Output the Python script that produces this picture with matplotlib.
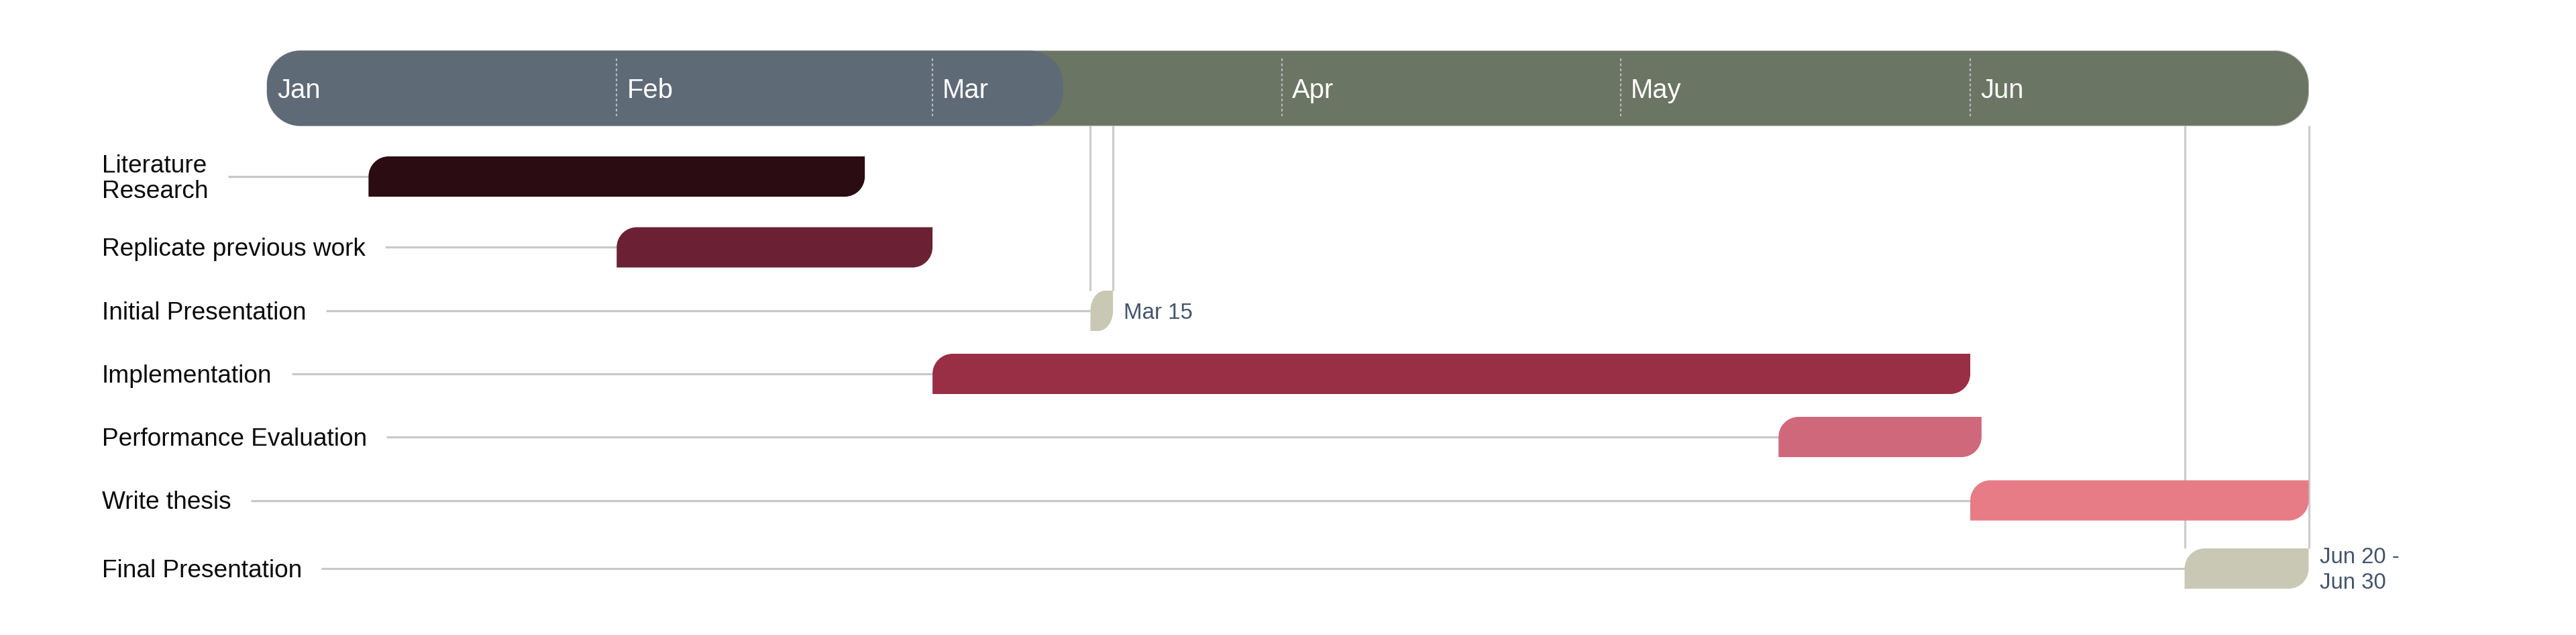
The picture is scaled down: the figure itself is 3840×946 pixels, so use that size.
import matplotlib
matplotlib.use("Agg")
import matplotlib.pyplot as plt
import matplotlib.dates as mdates
from matplotlib.path import Path
from matplotlib.patches import PathPatch
import datetime as dt

# ---------------- data ----------------
tasks = ["Literature\nResearch", "Replicate previous work", "Initial Presentation",
         "Implementation", "Performance Evaluation", "Write thesis", "Final Presentation"]
starts = ["2023-01-10", "2023-02-01", "2023-03-15", "2023-03-01",
          "2023-05-15", "2023-06-01", "2023-06-20"]
ends = ["2023-02-23", "2023-03-01", "2023-03-17", "2023-06-01",
        "2023-06-02", "2023-07-01", "2023-07-01"]
colors = ["#2b0c12", "#6b2133", "#c8c8b4", "#982f44", "#d0687b", "#e77c87", "#c8c8b4"]
milestone = [False, False, True, False, False, False, True]
annotations = ["", "", "Mar 15", "", "", "", "Jun 20 -\nJun 30"]

month_labels = ["Jan", "Feb", "Mar", "Apr", "May", "Jun"]
month_starts = ["2023-01-01", "2023-02-01", "2023-03-01",
                "2023-04-01", "2023-05-01", "2023-06-01"]
timeline_start = "2023-01-01"
timeline_end = "2023-07-01"
elapsed_end = "2023-03-12 14:00"

# ---------------- layout ----------------
plt.rcParams['font.family'] = ['Liberation Sans', 'DejaVu Sans']
plt.rcParams['lines.scale_dashes'] = False
W, H, DPI = 3840, 946, 100
PX = 72.0 / DPI  # points per pixel

def num(s):
    return mdates.date2num(dt.datetime.fromisoformat(s))

fig = plt.figure(figsize=(W / DPI, H / DPI), dpi=DPI)
ax = fig.add_axes([0, 0, 1, 1])
ax.axis('off')

x_left_px, x_right_px = 398, 3441.5
d0, d1 = num(timeline_start), num(timeline_end)
ppd = (x_right_px - x_left_px) / (d1 - d0)
ax.set_xlim(d0 - x_left_px / ppd, d0 + (W - x_left_px) / ppd)
ax.set_ylim(H, 0)

def dx(px):
    return px / ppd

row_y = [263, 368.5, 463, 557, 651, 745.5, 847]
bar_h = 60
head_top, head_bot = 75.5, 187.5
head_mid = (head_top + head_bot) / 2


def shape(xa, xb, yt, yb, rx, ry, tl, tr, br, bl):
    k = 0.5523
    V, C = [], []
    start = (xa + rx, yt) if tl else (xa, yt)
    V.append(start); C.append(Path.MOVETO)
    if tr:
        V += [(xb - rx, yt), (xb - rx + k * rx, yt), (xb, yt + ry - k * ry), (xb, yt + ry)]
        C += [Path.LINETO, Path.CURVE4, Path.CURVE4, Path.CURVE4]
    else:
        V.append((xb, yt)); C.append(Path.LINETO)
    if br:
        V += [(xb, yb - ry), (xb, yb - ry + k * ry), (xb - rx + k * rx, yb), (xb - rx, yb)]
        C += [Path.LINETO, Path.CURVE4, Path.CURVE4, Path.CURVE4]
    else:
        V.append((xb, yb)); C.append(Path.LINETO)
    if bl:
        V += [(xa + rx, yb), (xa + rx - k * rx, yb), (xa, yb - ry + k * ry), (xa, yb - ry)]
        C += [Path.LINETO, Path.CURVE4, Path.CURVE4, Path.CURVE4]
    else:
        V.append((xa, yb)); C.append(Path.LINETO)
    if tl:
        V += [(xa, yt + ry), (xa, yt + ry - k * ry), (xa + rx - k * rx, yt), (xa + rx, yt)]
        C += [Path.LINETO, Path.CURVE4, Path.CURVE4, Path.CURVE4]
    else:
        V.append((xa, yt)); C.append(Path.LINETO)
    V.append(start); C.append(Path.CLOSEPOLY)
    return Path(V, C)

# header band
hr = 50
ax.add_patch(PathPatch(shape(d0, d1, head_top, head_bot, dx(hr), hr, True, True, True, True),
                       facecolor="#6b7563", edgecolor="#b8bbb6", lw=0.8, zorder=2))
ax.add_patch(PathPatch(shape(d0, num(elapsed_end), head_top, head_bot, dx(hr), hr,
                             True, True, True, True),
                       facecolor="#5f6a77", edgecolor="none", zorder=3))

for i, (lab, ms) in enumerate(zip(month_labels, month_starts)):
    xm = num(ms)
    if i > 0:
        ax.plot([xm, xm], [87, 173], color="#c4c8cc", lw=2.2 * PX, alpha=0.85,
                dashes=(4 * PX, 3.5 * PX), zorder=4, solid_capstyle='butt')
    ax.text(xm + dx(15), head_mid + 14.5, lab, color="white", fontsize=40 * PX,
            ha="left", va="baseline", zorder=5)

# task labels
label_x = 152
fig.canvas.draw()
renderer = fig.canvas.get_renderer()
xlim0 = ax.get_xlim()[0]
label_step = 38

for i, task in enumerate(tasks):
    yc = row_y[i]
    n = task.count("\n") + 1
    # va='baseline' anchors the last line's baseline
    last_base = yc + 12.5 + (n - 1) * label_step / 2
    t = ax.text(xlim0 + dx(label_x), last_base, task,
                color="#0a0a0a", fontsize=37 * PX, ha="left", va="baseline",
                linespacing=1.11, zorder=5)
    bb = t.get_window_extent(renderer)
    line_start = xlim0 + dx(bb.x1 + 29)
    xs, xe = num(starts[i]), num(ends[i])
    ax.plot([line_start, xs], [yc, yc], color="#c8c8c8", lw=3.2 * PX,
            solid_capstyle='butt', zorder=1)

    w_px = (xe - xs) * ppd
    r = 30 if not milestone[i] else min(30, 0.65 * w_px)
    ax.add_patch(PathPatch(shape(xs, xe, yc - bar_h / 2, yc + bar_h / 2, dx(r), min(30, bar_h / 2),
                                 True, False, True, False),
                           facecolor=colors[i], edgecolor="none", zorder=3))

    if milestone[i]:
        for xv in (xs, xe):
            ax.plot([xv, xv], [head_bot, yc - bar_h / 2], color="#cccccc", lw=3.2 * PX,
                    solid_capstyle='butt', zorder=1)
    if annotations[i]:
        na = annotations[i].count("\n") + 1
        step = 37.7
        ax.text(xe + dx(16), yc + 11.5 + (na - 1) * step / 2, annotations[i],
                color="#44546a", fontsize=33 * PX, ha="left", va="baseline",
                linespacing=1.30, zorder=5)

fig.savefig("out.png", dpi=DPI, facecolor="white")
